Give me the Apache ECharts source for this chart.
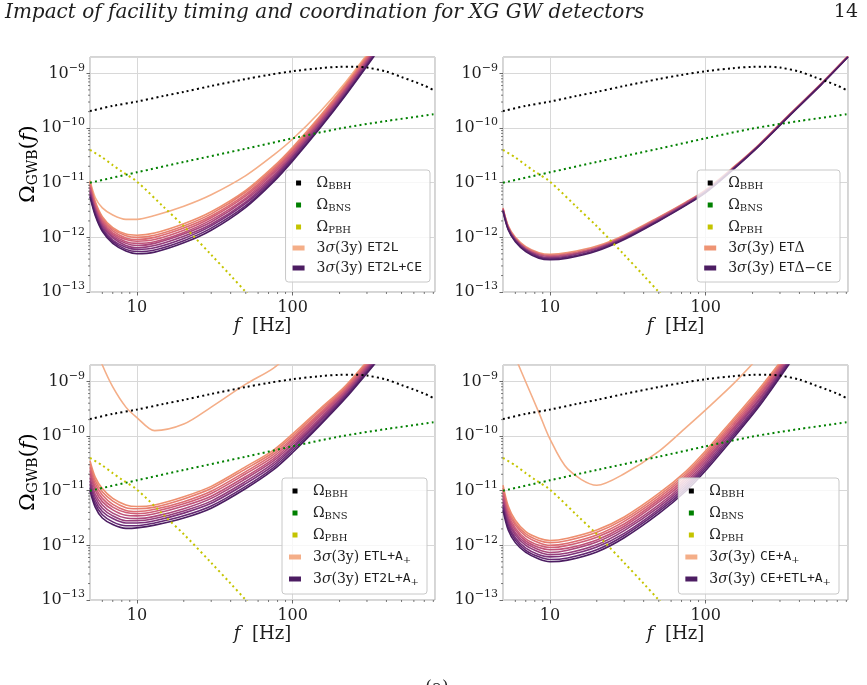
<!DOCTYPE html>
<html>
<head>
<meta charset="utf-8">
<script src="https://cdn.jsdelivr.net/npm/echarts@6/dist/echarts.min.js"></script>
<style>
  html, body { margin: 0; padding: 0; background: #fff; }
  #chart { width: 867px; height: 685px; }
</style>
</head>
<body>
<div id="chart"></div>
<script>
// frequency grid of the 3sigma(3y) curves, Hz
const freqs = [5, 5.4, 6, 7, 8.5, 10, 13, 20, 30, 50, 75, 100, 150, 220, 350, 550, 820];

// backgrounds (same in every panel)
const bbhFreq = [5, 7, 10, 15, 20, 30, 50, 70, 100, 150, 200, 250, 300, 400, 500, 600, 700, 820];
const bbhOmega = [2.05e-10, 2.55e-10, 3.05e-10, 3.9e-10, 4.6e-10, 5.9e-10, 7.9e-10, 9.4e-10, 1.1e-9, 1.25e-9, 1.32e-9, 1.33e-9, 1.28e-9, 1.08e-9, 8.6e-10, 7.1e-10, 6.0e-10, 4.8e-10];
const bnsFreq = [5, 10, 20, 50, 100, 200, 400, 820];
const bnsOmega = [1.0e-11, 1.55e-11, 2.4e-11, 4.2e-11, 6.5e-11, 9.8e-11, 1.35e-10, 1.8e-10];
const pbhFreq = [5, 6, 7, 8, 10, 15, 20, 30, 40, 50, 60];
const pbhOmega = [4.0e-11, 2.9e-11, 2.1e-11, 1.6e-11, 1.05e-11, 3.5e-12, 1.6e-12, 4.8e-13, 2.0e-13, 1.0e-13, 5.6e-14];

// sensitivity curves, log10(Omega) at freqs (first row = lightest)
const et2lCe = [
  [-10.96, -11.27, -11.46, -11.59, -11.67, -11.67, -11.60, -11.43, -11.22, -10.87, -10.50, -10.20, -9.70, -9.15, -8.40],
  [-10.98, -11.34, -11.62, -11.82, -11.94, -11.96, -11.92, -11.75, -11.53, -11.14, -10.71, -10.35, -9.78, -9.19, -8.42],
  [-11.01, -11.37, -11.65, -11.85, -11.97, -12.00, -11.96, -11.79, -11.57, -11.17, -10.74, -10.38, -9.80, -9.21, -8.44],
  [-11.04, -11.40, -11.68, -11.88, -12.01, -12.04, -12.00, -11.83, -11.61, -11.21, -10.77, -10.41, -9.83, -9.23, -8.46],
  [-11.07, -11.43, -11.71, -11.92, -12.04, -12.07, -12.04, -11.87, -11.64, -11.24, -10.80, -10.43, -9.85, -9.26, -8.48],
  [-11.10, -11.46, -11.74, -11.95, -12.08, -12.11, -12.08, -11.91, -11.68, -11.28, -10.83, -10.46, -9.88, -9.28, -8.50],
  [-11.14, -11.48, -11.77, -11.98, -12.11, -12.15, -12.11, -11.94, -11.72, -11.31, -10.87, -10.49, -9.90, -9.30, -8.52],
  [-11.17, -11.51, -11.80, -12.01, -12.15, -12.19, -12.15, -11.98, -11.76, -11.35, -10.90, -10.52, -9.93, -9.32, -8.54],
  [-11.20, -11.54, -11.83, -12.05, -12.18, -12.22, -12.19, -12.02, -11.79, -11.38, -10.93, -10.54, -9.95, -9.35, -8.56],
  [-11.23, -11.57, -11.86, -12.08, -12.22, -12.26, -12.23, -12.06, -11.83, -11.42, -10.96, -10.57, -9.98, -9.37, -8.58],
  [-11.26, -11.60, -11.89, -12.11, -12.25, -12.30, -12.27, -12.10, -11.87, -11.45, -10.99, -10.60, -10.00, -9.39, -8.60]
];
const etDeltaCe = [
  [-11.46, -11.79, -12.00, -12.17, -12.28, -12.31, -12.28, -12.16, -11.96, -11.63, -11.35, -11.13, -10.72, -10.30, -9.73, -9.19, -8.68],
  [-11.47, -11.80, -12.02, -12.19, -12.30, -12.33, -12.30, -12.18, -11.98, -11.64, -11.36, -11.14, -10.73, -10.31, -9.74, -9.19, -8.68],
  [-11.48, -11.82, -12.03, -12.21, -12.32, -12.35, -12.32, -12.20, -11.99, -11.66, -11.37, -11.15, -10.74, -10.31, -9.74, -9.20, -8.69],
  [-11.50, -11.83, -12.05, -12.22, -12.34, -12.37, -12.34, -12.21, -12.01, -11.67, -11.39, -11.16, -10.74, -10.32, -9.75, -9.20, -8.69],
  [-11.51, -11.85, -12.06, -12.24, -12.36, -12.39, -12.36, -12.23, -12.02, -11.69, -11.40, -11.17, -10.75, -10.32, -9.75, -9.21, -8.70],
  [-11.52, -11.86, -12.08, -12.26, -12.38, -12.41, -12.38, -12.25, -12.04, -11.70, -11.41, -11.18, -10.76, -10.33, -9.76, -9.21, -8.70]
];
const etlA = [
  [-8.10, -8.35, -8.70, -9.10, -9.47, -9.66, -9.90, -9.78, -9.47, -9.05, -8.76, -8.45],
  [-10.45, -10.75, -10.96, -11.14, -11.26, -11.29, -11.26, -11.11, -10.92, -10.56, -10.26, -9.96, -9.50, -9.07, -8.40],
  [-10.51, -10.81, -11.02, -11.19, -11.31, -11.33, -11.30, -11.15, -10.96, -10.60, -10.30, -10.00, -9.53, -9.10, -8.42],
  [-10.57, -10.87, -11.08, -11.25, -11.36, -11.38, -11.34, -11.20, -11.01, -10.65, -10.34, -10.04, -9.57, -9.12, -8.45],
  [-10.63, -10.93, -11.14, -11.30, -11.40, -11.42, -11.38, -11.24, -11.05, -10.69, -10.38, -10.07, -9.60, -9.15, -8.47],
  [-10.69, -10.99, -11.20, -11.35, -11.45, -11.46, -11.42, -11.28, -11.10, -10.74, -10.42, -10.11, -9.63, -9.17, -8.50],
  [-10.76, -11.06, -11.26, -11.41, -11.50, -11.51, -11.47, -11.33, -11.14, -10.78, -10.46, -10.15, -9.67, -9.20, -8.52],
  [-10.82, -11.12, -11.32, -11.46, -11.55, -11.55, -11.51, -11.37, -11.19, -10.83, -10.50, -10.19, -9.70, -9.22, -8.55],
  [-10.88, -11.18, -11.38, -11.51, -11.59, -11.59, -11.55, -11.41, -11.23, -10.87, -10.54, -10.22, -9.73, -9.25, -8.57],
  [-10.94, -11.24, -11.44, -11.57, -11.64, -11.64, -11.59, -11.46, -11.28, -10.92, -10.58, -10.26, -9.77, -9.27, -8.60],
  [-11.00, -11.30, -11.50, -11.62, -11.69, -11.68, -11.63, -11.50, -11.32, -10.96, -10.62, -10.30, -9.80, -9.30, -8.62]
];
const ceEtlA = [
  [-8.03, -8.25, -8.56, -9.01, -9.57, -10.05, -10.60, -10.90, -10.69, -10.28, -9.84, -9.52, -9.05, -8.55],
  [-10.90, -11.28, -11.54, -11.75, -11.87, -11.91, -11.87, -11.72, -11.48, -11.05, -10.64, -10.27, -9.69, -9.14, -8.40],
  [-10.95, -11.33, -11.59, -11.79, -11.91, -11.95, -11.91, -11.76, -11.52, -11.09, -10.68, -10.31, -9.73, -9.18, -8.43],
  [-11.00, -11.38, -11.63, -11.83, -11.95, -12.00, -11.96, -11.81, -11.56, -11.13, -10.72, -10.35, -9.77, -9.21, -8.46],
  [-11.05, -11.43, -11.68, -11.88, -12.00, -12.04, -12.00, -11.85, -11.61, -11.17, -10.76, -10.39, -9.81, -9.25, -8.48],
  [-11.10, -11.48, -11.72, -11.92, -12.04, -12.08, -12.05, -11.90, -11.65, -11.21, -10.80, -10.43, -9.85, -9.28, -8.51],
  [-11.16, -11.52, -11.77, -11.96, -12.08, -12.13, -12.09, -11.94, -11.69, -11.26, -10.84, -10.47, -9.88, -9.32, -8.54],
  [-11.21, -11.57, -11.81, -12.00, -12.12, -12.17, -12.14, -11.99, -11.73, -11.30, -10.88, -10.51, -9.92, -9.35, -8.57],
  [-11.26, -11.62, -11.86, -12.05, -12.17, -12.21, -12.18, -12.03, -11.78, -11.34, -10.92, -10.55, -9.96, -9.39, -8.59],
  [-11.31, -11.67, -11.90, -12.09, -12.21, -12.26, -12.23, -12.08, -11.82, -11.38, -10.96, -10.59, -10.00, -9.42, -8.62],
  [-11.36, -11.72, -11.95, -12.13, -12.25, -12.30, -12.27, -12.12, -11.86, -11.42, -11.00, -10.63, -10.04, -9.46, -8.65]
];

const xMinor = [6, 7, 8, 9, 20, 30, 40, 50, 60, 70, 80, 90, 200, 300, 400, 500, 600, 700, 800];
const yMinor = [2e-13, 3e-13, 4e-13, 5e-13, 6e-13, 7e-13, 8e-13, 9e-13,
  2e-12, 3e-12, 4e-12, 5e-12, 6e-12, 7e-12, 8e-12, 9e-12,
  2e-11, 3e-11, 4e-11, 5e-11, 6e-11, 7e-11, 8e-11, 9e-11,
  2e-10, 3e-10, 4e-10, 5e-10, 6e-10, 7e-10, 8e-10, 9e-10];
const X_MIN = 5, X_MAX = 820, Y_MIN = 1e-13, Y_MAX = 2e-9;

const SERIF = '"DejaVu Serif", "Liberation Serif", serif';
const MONO = '"DejaVu Sans Mono", "Liberation Mono", monospace';
const INK = '#1e1e1e';

const magma11 = ['#f4ae88', '#ee8f6f', '#e67d6f', '#dc6c72', '#cf5e76', '#bf5279', '#ab477b', '#953d7b', '#7d327a', '#652872', '#4c1d62'];
const magma6 = ['#ee9474', '#da6f76', '#b9537a', '#933f7b', '#6c2b73', '#4c1d62'];

const panels = [
  { left: 90, top: 57, rows: et2lCe, colors: magma11, names: ['ET2L', 'ET2L+CE'], legendRight: 437, legendTop: 170, ytitle: true },
  { left: 503, top: 57, rows: etDeltaCe, colors: magma6, names: ['ETΔ', 'ETΔ−CE'], legendRight: 27, legendTop: 170, ytitle: false },
  { left: 90, top: 365, rows: etlA, colors: magma11, names: ['ETL+A+', 'ET2L+A+'], legendRight: 440, legendTop: 478, ytitle: true },
  { left: 503, top: 365, rows: ceEtlA, colors: magma11, names: ['CE+A+', 'CE+ETL+A+'], legendRight: 28, legendTop: 478, ytitle: false }
];

const sig = '{g|}{n|3}{i|σ}{n|(3y) }';
const legendText = {
  'BBH': '{g|}{n|Ω}{s|BBH}',
  'BNS': '{g|}{n|Ω}{s|BNS}',
  'PBH': '{g|}{n|Ω}{s|PBH}',
  'ET2L': sig + '{t|ET2L}',
  'ET2L+CE': sig + '{t|ET2L+CE}',
  'ETΔ': sig + '{t|ET}{n|Δ}',
  'ETΔ−CE': sig + '{t|ET}{n|Δ−}{t|CE}',
  'ETL+A+': sig + '{t|ETL+A}{s|+}',
  'ET2L+A+': sig + '{t|ET2L+A}{s|+}',
  'CE+A+': sig + '{t|CE+A}{s|+}',
  'CE+ETL+A+': sig + '{t|CE+ETL+A}{s|+}'
};
const legendRich = {
  g: { width: 7, lineHeight: 16 },
  n: { fontFamily: SERIF, fontSize: 14, lineHeight: 16, color: INK },
  i: { fontFamily: SERIF, fontStyle: 'italic', fontSize: 14, lineHeight: 16, color: INK },
  s: { fontFamily: SERIF, fontSize: 10, lineHeight: 16, color: INK, padding: [6, 0, 0, 0] },
  t: { fontFamily: MONO, fontSize: 13, lineHeight: 16, color: INK }
};
const SQ = 'path://M0,0h10v10h-10z';

const grids = [], xAxes = [], yAxes = [], legends = [], series = [];

function isDecade(v) {
  const e = Math.log10(v);
  return Math.abs(e - Math.round(e)) < 1e-6;
}

panels.forEach((p, i) => {
  grids.push({ left: p.left, top: p.top, width: 345, height: 235, show: true, borderColor: '#ababab', borderWidth: 1, backgroundColor: '#fff' });
  xAxes.push({
    type: 'log', logBase: 10, gridIndex: i, min: X_MIN, max: X_MAX,
    axisLine: { show: false },
    axisTick: { show: true, length: 3.5, lineStyle: { color: '#444', width: 0.8 } },
    splitLine: { show: true, lineStyle: { color: '#d8d8d8', width: 1 } },
    axisLabel: {
      margin: 8, showMinLabel: false, showMaxLabel: false,
      fontFamily: SERIF, fontSize: 16, color: INK,
      formatter: v => isDecade(v) ? String(Math.round(v)) : ''
    },
    name: '{i|f}{n|  [Hz]}', nameLocation: 'middle', nameGap: 24,
    nameTextStyle: {
      rich: {
        i: { fontFamily: SERIF, fontStyle: 'italic', fontSize: 18, color: INK },
        n: { fontFamily: SERIF, fontSize: 18, color: INK }
      }
    }
  });
  yAxes.push({
    type: 'log', logBase: 10, gridIndex: i, min: Y_MIN, max: Y_MAX,
    axisLine: { show: false },
    axisTick: { show: true, length: 3.5, lineStyle: { color: '#444', width: 0.8 } },
    splitLine: { show: true, lineStyle: { color: '#d8d8d8', width: 1 } },
    axisLabel: {
      margin: 5, showMaxLabel: false,
      formatter: v => isDecade(v) ? '{b|10}{s|−' + (-Math.round(Math.log10(v))) + '}' : '',
      rich: {
        b: { fontFamily: SERIF, fontSize: 16, color: INK },
        s: { fontFamily: SERIF, fontSize: 11, color: INK, padding: [0, 0, 11, 0] }
      }
    }
  });

  // sensitivity family
  p.rows.forEach((row, k) => {
    const last = p.rows.length - 1;
    const name = k === 0 ? p.names[0] : (k === last ? p.names[1] : p.names[0] + ' #' + k);
    series.push({
      type: 'line', name, xAxisIndex: i, yAxisIndex: i,
      data: row.map((v, j) => [freqs[j], Math.pow(10, v)]),
      symbol: 'none', smooth: 0.3, silent: true, z: 2,
      color: p.colors[k],
      lineStyle: { width: 1.6, color: p.colors[k] }
    });
  });

  // backgrounds
  [['BBH', bbhFreq, bbhOmega, '#000000'], ['BNS', bnsFreq, bnsOmega, '#008000'], ['PBH', pbhFreq, pbhOmega, '#c4c400']]
    .forEach(([name, fx, fy, col]) => {
      series.push({
        type: 'line', name, xAxisIndex: i, yAxisIndex: i,
        data: fx.map((f, j) => [f, fy[j]]),
        symbol: 'none', smooth: 0.3, silent: true, z: 3, color: col,
        lineStyle: { width: 2, color: col, type: [2, 3.2] }
      });
    });

  // matplotlib-style minor ticks
  series.push({
    type: 'custom', xAxisIndex: i, yAxisIndex: i, silent: true, clip: false, z: 5,
    data: xMinor.map(v => [v, Y_MIN]),
    renderItem: (params, api) => {
      const pt = api.coord([api.value(0), api.value(1)]);
      return { type: 'line', shape: { x1: pt[0], y1: pt[1], x2: pt[0], y2: pt[1] + 2 }, style: { stroke: '#444', lineWidth: 0.7 } };
    }
  });
  series.push({
    type: 'custom', xAxisIndex: i, yAxisIndex: i, silent: true, clip: false, z: 5,
    data: yMinor.map(v => [X_MIN, v]),
    renderItem: (params, api) => {
      const pt = api.coord([api.value(0), api.value(1)]);
      return { type: 'line', shape: { x1: pt[0] - 2, y1: pt[1], x2: pt[0], y2: pt[1] }, style: { stroke: '#444', lineWidth: 0.7 } };
    }
  });

  legends.push({
    orient: 'vertical', right: p.legendRight, top: p.legendTop,
    selectedMode: false,
    itemWidth: 12, itemHeight: 5, itemGap: 6,
    padding: [5, 8, 7, 7],
    backgroundColor: 'rgba(255,255,255,0.8)',
    borderColor: '#c8c8c8', borderWidth: 1, borderRadius: 3,
    data: [
      { name: 'BBH', icon: SQ, itemStyle: { color: '#000000' } },
      { name: 'BNS', icon: SQ, itemStyle: { color: '#008000' } },
      { name: 'PBH', icon: SQ, itemStyle: { color: '#c4c400' } },
      { name: p.names[0], icon: 'rect', itemStyle: { color: p.colors[0] } },
      { name: p.names[1], icon: 'rect', itemStyle: { color: p.colors[p.colors.length - 1] } }
    ],
    formatter: name => legendText[name],
    textStyle: { rich: legendRich }
  });
});

const ytitleRich = {
  n: { fontFamily: SERIF, fontSize: 21, color: INK },
  i: { fontFamily: SERIF, fontStyle: 'italic', fontSize: 21, color: INK },
  s: { fontFamily: SERIF, fontSize: 14, color: INK, padding: [9, 0, 0, 0] }
};

const graphic = [
  { type: 'text', left: 5, top: 3, style: { text: 'Impact of facility timing and coordination for XG GW detectors', font: 'italic 20px "DejaVu Serif"', fill: INK } },
  { type: 'text', right: 9, top: 3, style: { text: '14', font: '19px "DejaVu Serif"', fill: INK } },
  { type: 'text', x: 437, y: 679, style: { text: '(a)', font: '17px "DejaVu Serif"', fill: INK, align: 'center', verticalAlign: 'top' } }
];
panels.forEach(p => {
  if (!p.ytitle) return;
  graphic.push({
    type: 'text', x: 29, y: p.top + 107, rotation: Math.PI / 2,
    style: { text: '{n|Ω}{s|GWB}{n|(}{i|f}{n|)}', rich: ytitleRich, align: 'center', verticalAlign: 'middle' }
  });
});

const chart = echarts.init(document.getElementById('chart'), null, { renderer: 'canvas' });
chart.setOption({
  animation: false,
  backgroundColor: '#fff',
  grid: grids,
  xAxis: xAxes,
  yAxis: yAxes,
  legend: legends,
  series,
  graphic
});
</script>
</body>
</html>
